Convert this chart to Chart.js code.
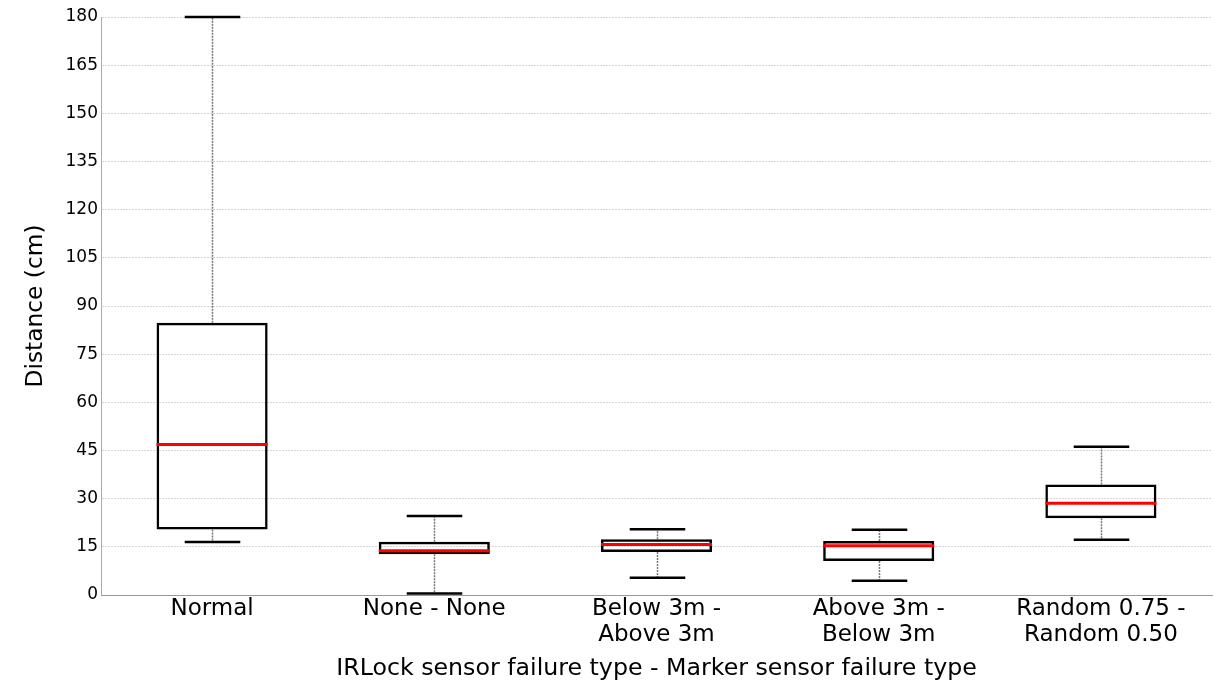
<!DOCTYPE html>
<html>
<head>
<meta charset="utf-8">
<script src="https://cdn.jsdelivr.net/npm/chart.js@4/dist/chart.umd.min.js"></script>
<style>
  body { margin: 0; background: #fff; }
</style>
</head>
<body>
<canvas id="chart" width="1214" height="684"></canvas>
<script>
const categories = [
  "Normal",
  "None - None",
  ["Below 3m -", "Above 3m"],
  ["Above 3m -", "Below 3m"],
  ["Random 0.75 -", "Random 0.50"],
];
const whiskerLow = [16.5, 0.5, 5.4, 4.4, 17.2];
const q1 = [20.4, 12.7, 13.4, 10.6, 23.9];
const median = [46.9, 13.8, 15.7, 15.3, 28.6];
const q3 = [84.8, 16.6, 17.4, 16.8, 34.4];
const whiskerHigh = [180, 24.6, 20.5, 20.3, 46.2];

const FONT = "'DejaVu Sans', sans-serif";

// whiskers, caps and medians on top of the floating bars
const boxParts = {
  id: "boxParts",
  afterDatasetsDraw(chart) {
    const ctx = chart.ctx;
    const y = chart.scales.y;
    const meta = chart.getDatasetMeta(0);
    meta.data.forEach((bar, i) => {
      const x = Math.round(bar.x) + 0.5;
      const half = bar.width / 2;
      const capHalf = bar.width / 4;
      ctx.save();
      // dotted whiskers
      ctx.strokeStyle = "#777";
      ctx.lineWidth = 1.5;
      ctx.setLineDash([2, 1]);
      ctx.beginPath();
      ctx.moveTo(x, y.getPixelForValue(q3[i]));
      ctx.lineTo(x, y.getPixelForValue(whiskerHigh[i]));
      ctx.moveTo(x, y.getPixelForValue(q1[i]));
      ctx.lineTo(x, y.getPixelForValue(whiskerLow[i]));
      ctx.stroke();
      // caps
      ctx.setLineDash([]);
      ctx.strokeStyle = "#000";
      ctx.lineWidth = 2.5;
      ctx.beginPath();
      [whiskerHigh[i], whiskerLow[i]].forEach((v) => {
        const py = y.getPixelForValue(v);
        ctx.moveTo(x - capHalf, py);
        ctx.lineTo(x + capHalf, py);
      });
      ctx.stroke();
      // median
      ctx.strokeStyle = "#ff0000";
      ctx.lineWidth = 3;
      ctx.beginPath();
      const my = y.getPixelForValue(median[i]);
      ctx.moveTo(bar.x - half, my);
      ctx.lineTo(bar.x + half, my);
      ctx.stroke();
      ctx.restore();
    });
  },
};

new Chart(document.getElementById("chart"), {
  type: "bar",
  data: {
    labels: categories,
    datasets: [
      {
        data: q1.map((v, i) => [v, q3[i]]),
        backgroundColor: "rgba(0,0,0,0)",
        borderColor: "#000",
        borderWidth: 2.5,
        borderSkipped: false,
        barPercentage: 0.5,
        categoryPercentage: 1,
      },
    ],
  },
  options: {
    responsive: false,
    animation: false,
    layout: { padding: { top: 17, right: 2, left: 0, bottom: 0 } },
    plugins: {
      legend: { display: false },
      tooltip: { enabled: false },
    },
    scales: {
      x: {
        grid: { display: false, drawTicks: false },
        border: { display: true, color: "#999", width: 1 },
        ticks: {
          color: "#000",
          padding: 1,
          font: { family: FONT, size: 23, lineHeight: 1.12 },
        },
        title: {
          display: true,
          text: "IRLock sensor failure type - Marker sensor failure type",
          color: "#000",
          font: { family: FONT, size: 23.7 },
          padding: { top: 0, bottom: 1 },
        },
        afterFit(scale) {
          scale.height = 89;
        },
      },
      y: {
        min: 0,
        max: 180,
        grid: { color: "#d6d6d6", lineWidth: 1, drawTicks: false },
        border: { display: true, color: "#aaa", width: 1, dash: [2, 1] },
        ticks: {
          stepSize: 15,
          color: "#000",
          padding: 3,
          font: { family: FONT, size: 17 },
        },
        title: {
          display: true,
          text: "Distance (cm)",
          color: "#000",
          font: { family: FONT, size: 23.3 },
          padding: { top: 22, bottom: 0 },
        },
        afterFit(scale) {
          scale.width = 101;
        },
      },
    },
  },
  plugins: [boxParts],
});
</script>
</body>
</html>
